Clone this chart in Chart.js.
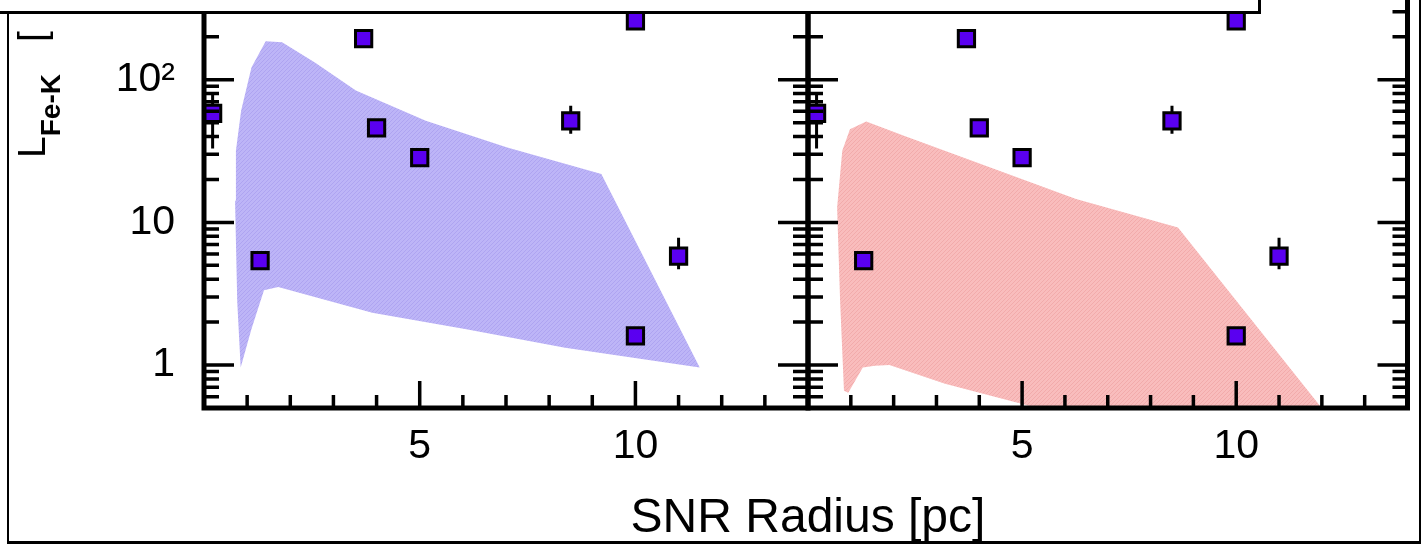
<!DOCTYPE html>
<html>
<head>
<meta charset="utf-8">
<script src="https://cdn.jsdelivr.net/npm/chart.js@4.4.1/dist/chart.umd.min.js"></script>
<style>
  html, body { margin: 0; padding: 0; background: #fff; }
  body { width: 1422px; height: 544px; position: relative; overflow: hidden; font-family: 'Liberation Sans', Arial, sans-serif; color: #000; }
  canvas { position: absolute; left: 0; top: -60px; }
  #frame { position: absolute; left: 7px; top: -10px; width: 1414px; height: 554px; box-sizing: border-box; border: 2px solid #000; border-bottom-width: 3px; }
  #topbox { position: absolute; left: -5px; top: -20px; width: 1266px; height: 34px; box-sizing: border-box; border: 3px solid #000; background: #fff; z-index: 5; }
  #ytitle { position: absolute; left: 12px; top: 158px; transform: rotate(-90deg); transform-origin: left top; white-space: nowrap; font-size: 39px; line-height: 1; }
  #ytitle .sub { position: relative; top: 15px; font-size: 28px; font-weight: bold; }
  #ytitle .br { margin-left: 32px; }
  #xtitle { position: absolute; left: 0; width: 1616px; top: 492px; text-align: center; font-size: 48px; line-height: 1; white-space: nowrap; }
</style>
</head>
<body>
<div id="frame"></div>
<canvas id="left" width="1422" height="604"></canvas>
<canvas id="right" width="1422" height="604"></canvas>
<div id="ytitle">L<span class="sub">Fe-K</span><span class="br">[</span></div>
<div id="xtitle">SNR Radius [pc]</div>
<div id="topbox"></div>
<script>
'use strict';

// ── Data ──────────────────────────────────────────────────────
const radius  = [0.2, 1.3, 3.7, 4.0, 5.0, 8.5, 10.0, 10.0, 11.0];
const lumFeK  = [58, 5.4, 194, 46, 28.4, 51.5, 259, 1.6, 5.8];
const errLow  = [33, 5.4, 194, 46, 28.4, 41.8, 259, 1.6, 4.7];
const errHigh = [81, 5.4, 194, 46, 28.4, 65.8, 259, 1.6, 7.8];

// model band, left panel (closed outline: upper edge, then lower edge back)
const bandBlueR = [0.85, 0.77, 0.72, 0.74, 0.86, 1.10, 1.43, 1.81, 2.57, 3.52, 5.14, 7.03, 9.21, 11.49, 8.37, 6.08, 3.90, 1.72, 1.39, 1.10, 0.85];
const bandBlueL = [0.96, 2.8, 14.2, 31.8, 60.6, 122, 186, 183, 132, 84, 51.5, 33.5, 21.8, 0.96, 1.32, 1.78, 2.33, 3.52, 3.34, 1.79, 0.96];

// model band, right panel
const bandRedR = [0.84, 0.75, 0.68, 0.80, 0.98, 1.36, 2.24, 3.83, 6.26, 8.64, 11.95, 12.2, 6.0, 5.05, 3.2, 1.9, 1.56, 1.28, 0.94, 0.84];
const bandRedL = [0.66, 2.8, 12.7, 31.8, 45, 51, 40.5, 27, 14.6, 9.2, 0.52, 0.3, 0.44, 0.53, 0.74, 1.0, 0.99, 0.96, 0.64, 0.66];

const xTickValues = [5, 10];
const xTickLabels = ['5', '10'];
const yTickValues = [1, 10, 100];
const yTickLabels = ['1', '10', '10²'];

const TICK_FONT = { family: "'Liberation Sans', Arial, sans-serif", size: 41 };

function hatch(base, line) {
  const c = document.createElement('canvas');
  c.width = 4; c.height = 4;
  const g = c.getContext('2d');
  g.fillStyle = base;
  g.fillRect(0, 0, 4, 4);
  g.strokeStyle = line;
  g.lineWidth = 1;
  g.beginPath();
  g.moveTo(0, 4); g.lineTo(4, 0);
  g.moveTo(-1, 1); g.lineTo(1, -1);
  g.moveTo(3, 5); g.lineTo(5, 3);
  g.stroke();
  return g.createPattern(c, 'repeat');
}

function toPoints(xs, ys) {
  return xs.map((x, i) => ({ x: x, y: ys[i] }));
}

// inward ticks + axis box
const inwardAxes = {
  id: 'inwardAxes',
  afterDatasetsDraw(chart) {
    const { ctx, chartArea: a, scales: { x, y } } = chart;
    ctx.save();
    ctx.strokeStyle = '#000';
    ctx.lineWidth = 3.5;
    ctx.beginPath();
    for (let e = -1; e <= 2; e++) {
      for (let m = 1; m <= 9; m++) {
        const v = m * Math.pow(10, e);
        if (v <= y.min || v > y.max) continue;
        const py = y.getPixelForValue(v);
        const len = m === 1 ? 30 : 15;
        ctx.moveTo(a.left, py);  ctx.lineTo(a.left + len, py);
        ctx.moveTo(a.right, py); ctx.lineTo(a.right - len, py);
      }
    }
    for (let v = 1; v < 14; v++) {
      const px = x.getPixelForValue(v);
      const len = v % 5 === 0 ? 27 : 13;
      ctx.moveTo(px, a.bottom); ctx.lineTo(px, a.bottom - len);
      ctx.moveTo(px, a.top);    ctx.lineTo(px, a.top + len);
    }
    ctx.stroke();
    ctx.lineWidth = 5;
    ctx.strokeRect(a.left, a.top, a.right - a.left, a.bottom - a.top);
    ctx.restore();
  }
};

// vertical error bars under the markers
const errorBars = {
  id: 'errorBars',
  beforeDatasetDraw(chart, args) {
    if (args.index !== 1) return;
    const { ctx, scales: { x, y } } = chart;
    ctx.save();
    ctx.strokeStyle = '#000';
    ctx.lineWidth = 3;
    ctx.beginPath();
    radius.forEach((r, i) => {
      if (errHigh[i] === errLow[i]) return;
      const px = x.getPixelForValue(r);
      ctx.moveTo(px, y.getPixelForValue(errLow[i]));
      ctx.lineTo(px, y.getPixelForValue(errHigh[i]));
    });
    ctx.stroke();
    ctx.restore();
  }
};

function pickLabel(values, labels, v) {
  const i = values.findIndex(t => Math.abs(t - v) < 1e-6 * t);
  return i < 0 ? '' : labels[i];
}

function noPad(s) {
  s.paddingTop = 0; s.paddingBottom = 0;
  s.paddingLeft = 0; s.paddingRight = 0;
}

function makeChart(id, bandR, bandL, fillPattern, leftPx, rightPad, showYLabels) {
  return new Chart(document.getElementById(id), {
    type: 'scatter',
    data: {
      datasets: [{
        data: toPoints(bandR, bandL),
        showLine: true,
        fill: 'shape',
        backgroundColor: fillPattern,
        borderColor: 'rgba(0,0,0,0)',
        borderWidth: 0,
        pointRadius: 0,
        tension: 0,
        clip: 0,
        order: 2
      }, {
        data: toPoints(radius, lumFeK),
        pointStyle: 'rect',
        pointRadius: 11.5,
        backgroundColor: '#5a00f0',
        borderColor: '#000',
        borderWidth: 3,
        clip: false,
        order: 1
      }]
    },
    options: {
      responsive: false,
      devicePixelRatio: 1,
      animation: false,
      events: [],
      layout: { padding: { left: 0, right: rightPad, top: 40, bottom: 0 } },
      plugins: { legend: { display: false }, tooltip: { enabled: false } },
      scales: {
        x: {
          type: 'linear', min: 0, max: 14,
          grid: { display: false, drawTicks: false },
          border: { display: false },
          ticks: {
            stepSize: 1, autoSkip: false, maxRotation: 0, minRotation: 0,
            padding: 14, color: '#000', font: TICK_FONT,
            callback: v => pickLabel(xTickValues, xTickLabels, v)
          },
          afterFit: s => { s.height = 136; noPad(s); }
        },
        y: {
          type: 'logarithmic', min: 0.5, max: 500,
          grid: { display: false, drawTicks: false },
          border: { display: false },
          ticks: {
            display: showYLabels, autoSkip: false,
            padding: 29, color: '#000', font: TICK_FONT,
            callback: v => pickLabel(yTickValues, yTickLabels, v)
          },
          afterFit: s => { s.width = leftPx; noPad(s); }
        }
      }
    },
    plugins: [inwardAxes, errorBars]
  });
}

makeChart('left',  bandBlueR, bandBlueL, hatch('#bdb5f7', '#aea4f1'), 204, 1422 - 808, true);
makeChart('right', bandRedR,  bandRedL,  hatch('#f9bdbd', '#f2abab'), 808, 1422 - 1414, false);
</script>
</body>
</html>
